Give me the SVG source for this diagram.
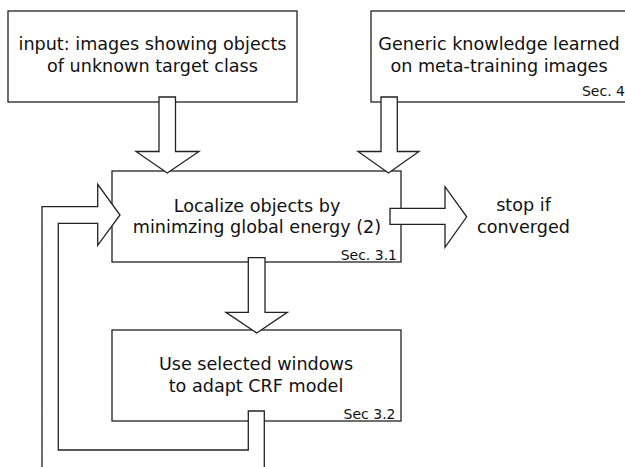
<svg xmlns="http://www.w3.org/2000/svg" width="625" height="467" viewBox="0 0 625 467">
<style>
.box{fill:#fff;stroke:#222;stroke-width:1.3}
.arr{fill:#fff;stroke:#222;stroke-width:1.3;stroke-linejoin:miter}
.t{font-family:"DejaVu Sans",sans-serif;font-size:17.6px;fill:#111;text-anchor:middle}
.s{font-family:"DejaVu Sans",sans-serif;font-size:14px;fill:#111;text-anchor:end}
</style>
<rect width="625" height="467" fill="#fff"/>
<g id="input">
<rect class="box" x="8" y="11" width="289" height="91"/>
<text class="t" x="152.5" y="49.5">input: images showing objects</text>
<text class="t" x="152.5" y="71.5">of unknown target class</text>
</g>
<g id="knowledge">
<rect class="box" x="371" y="11" width="270" height="91"/>
<text class="t" x="499" y="49.5">Generic knowledge learned</text>
<text class="t" x="499" y="71.5">on meta-training images</text>
<text class="s" x="625" y="96">Sec. 4</text>
</g>
<g id="localize">
<rect class="box" x="112" y="171" width="289" height="91"/>
<text class="t" x="257" y="211.5">Localize objects by</text>
<text class="t" x="257" y="232.5">minimzing global energy (2)</text>
<text class="s" x="397" y="260">Sec. 3.1</text>
</g>
<g id="adapt">
<rect class="box" x="112" y="330" width="289" height="91"/>
<text class="t" x="256" y="370">Use selected windows</text>
<text class="t" x="256" y="391.5">to adapt CRF model</text>
<text class="s" x="395.5" y="419">Sec 3.2</text>
</g>
<g id="stop">
<text class="t" x="523.5" y="211">stop if</text>
<text class="t" x="523.5" y="233">converged</text>
</g>
<g id="connectors">
<polygon class="arr" points="159,97 175.5,97 175.5,151.5 199,151.5 167.3,173 136,151.5 159,151.5"/>
<polygon class="arr" points="381,97 397.3,97 397.3,151.5 419,151.5 388.5,173 358,151.5 381,151.5"/>
<polygon class="arr" points="248.3,257.7 265,257.7 265,312.3 287.3,312.3 256.8,333 226,312.3 248.3,312.3"/>
<polygon class="arr" points="390,208.3 445,208.3 445,186.7 466.7,216.8 445,247.3 445,224.3 390,224.3"/>
<polygon class="arr" points="264.3,411 264.3,480 42,480 42,206.7 97.7,206.7 97.7,184.3 120,215 97.7,245.3 97.7,223.3 58.3,223.3 58.3,450 248.3,450 248.3,411"/>
</g>
</svg>
